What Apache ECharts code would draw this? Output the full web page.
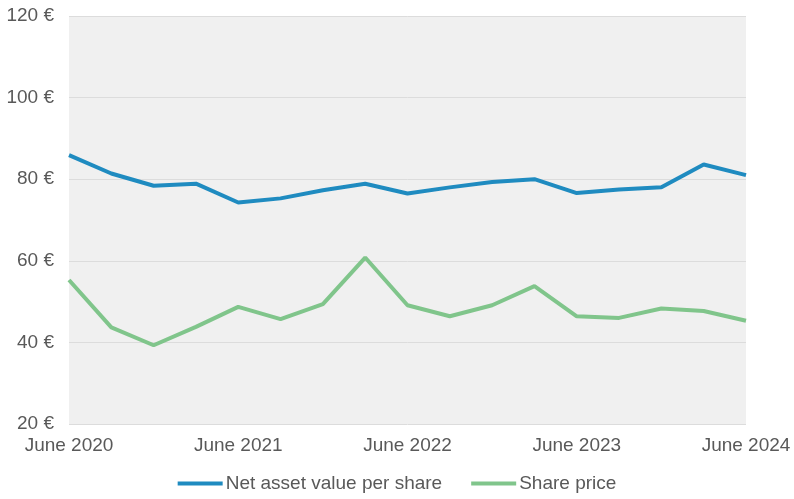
<!DOCTYPE html>
<html>
<head>
<meta charset="utf-8">
<script src="https://cdn.jsdelivr.net/npm/echarts@6/dist/echarts.min.js"></script>
<style>html,body{margin:0;padding:0;background:#fff}#c{width:794px;height:499px}</style>
</head>
<body>
<div id="c"></div>
<script>
const categories = ['June 2020','Sep 2020','Dec 2020','Mar 2021','June 2021','Sep 2021','Dec 2021','Mar 2022','June 2022','Sep 2022','Dec 2022','Mar 2023','June 2023','Sep 2023','Dec 2023','Mar 2024','June 2024'];
const navPerShare = [85.9,81.4,78.4,78.9,74.3,75.3,77.3,78.9,76.5,78.0,79.3,80.0,76.6,77.5,78.0,83.6,81.0];
const sharePrice = [55.3,43.7,39.3,43.8,48.7,45.7,49.4,60.8,49.1,46.4,49.1,53.8,46.4,46.0,48.3,47.7,45.3];
const seriesNames = ['Net asset value per share','Share price'];
const yTicks = {min:20, max:120, interval:20};

const font = 'Liberation Sans, Arial, sans-serif';
const chart = echarts.init(document.getElementById('c'), null, {renderer:'canvas'});
chart.setOption({
  animation:false,
  textStyle:{fontFamily:font},
  grid:{left:69, right:48, top:16, bottom:75, show:true, backgroundColor:'#f0f0f0', borderWidth:0},
  legend:{
    bottom:1, left:'center', itemWidth:45, itemHeight:4, itemGap:29,
    icon:'rect',
    textStyle:{fontFamily:font, fontSize:19, color:'#595959', padding:[0,0,0,-2]},
    data:seriesNames
  },
  xAxis:{
    type:'category', data:categories, boundaryGap:false,
    axisLine:{show:false}, axisTick:{show:false},
    axisLabel:{interval:3, fontSize:19, color:'#595959', margin:12, fontFamily:font},
    splitLine:{show:false}
  },
  yAxis:{
    type:'value', min:yTicks.min, max:yTicks.max, interval:yTicks.interval,
    axisLine:{show:false}, axisTick:{show:false},
    axisLabel:{formatter:v=>v+' €', fontSize:19, color:'#595959', margin:15, fontFamily:font},
    splitLine:{lineStyle:{color:'#dcdcdc', width:1}}
  },
  series:[
    {name:seriesNames[0], type:'line', data:navPerShare, symbol:'none', lineStyle:{width:4, color:'#1f8bc0'}, itemStyle:{color:'#1f8bc0'}},
    {name:seriesNames[1], type:'line', data:sharePrice, symbol:'none', lineStyle:{width:4, color:'#80c58b'}, itemStyle:{color:'#80c58b'}}
  ]
});
</script>
</body>
</html>
